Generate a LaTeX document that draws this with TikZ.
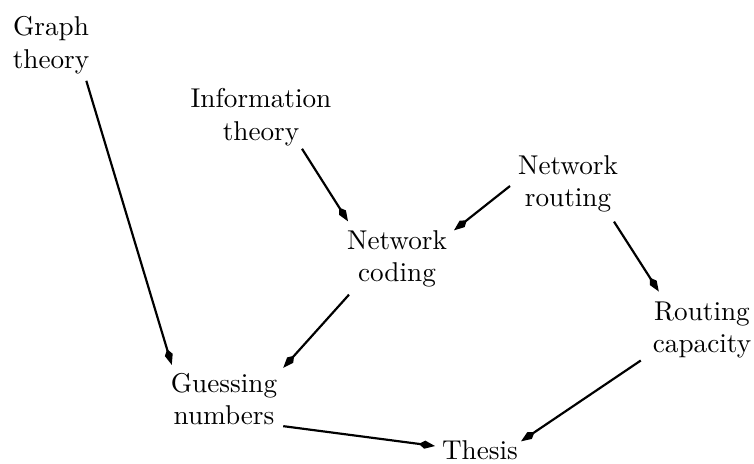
\documentclass[tikz,border=0pt]{standalone}
\usetikzlibrary{arrows.meta}
\begin{document}
\begin{tikzpicture}[>={Kite[length=6pt,width=3pt,inset=2.2pt]},thick,
		x=0.3676pt,y=-0.3676pt,inner sep=0pt]
		\tikzstyle{every node}=[align=center,text=black]
		\useasboundingbox (0,0) rectangle (754,463);
		
		\node (gt) at (51,45)    {Graph\\theory};
		\node (it) at (261,117)  {Information\\theory};
		\node (nr) at (568,184)  {Network\\routing};
		\node (nc) at (397,259)  {Network\\coding};
		\node (rc) at (702,330)  {Routing\\capacity};
		\node (gn) at (224,399)  {Guessing\\numbers};
		\node (th) at (480,450)  {Thesis};
		
		\path[->] ([shift={(-4,6)}]gt.south east)	edge ([shift={(2,-7)}]gn.north west)
				([shift={(41,2)}]it.south)			edge ([shift={(2,-8)}]nc.north west)
				([shift={(-7,2)}]nr.west)			edge ([shift={(6,1)}]nc.north east)
				([shift={(-5,8)}]nr.south east)		edge ([shift={(7,-9)}]rc.north west)
				([shift={(3,6)}]nc.south west)		edge ([shift={(5,-4)}]gn.north east)
				([shift={(5,0)}]gn.south east)		edge ([shift={(-6,-4)}]th.west)
				([shift={(-11,1)}]rc.south west)	edge ([shift={(2,2)}]th.north east);
\end{tikzpicture}
\end{document}
